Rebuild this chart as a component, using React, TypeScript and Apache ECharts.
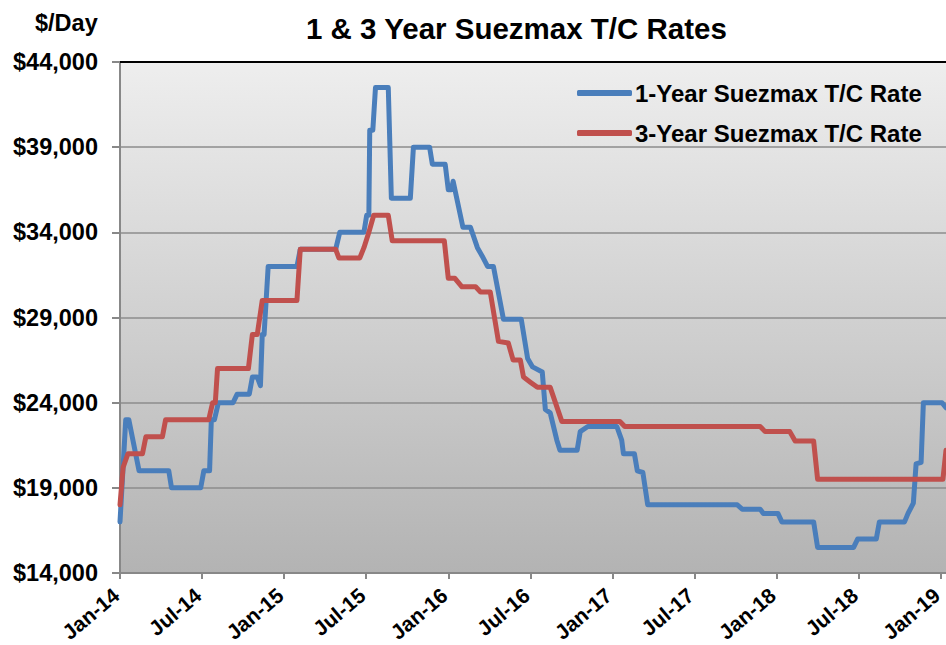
import React, { useEffect, useRef } from "react";
import * as echarts from "echarts";

const TITLE = "1 & 3 Year Suezmax T/C Rates";
const Y_UNIT = "$/Day";
const SERIES_NAMES = ["1-Year Suezmax T/C Rate", "3-Year Suezmax T/C Rate"];
const X_TICK_LABELS = ["Jan-14", "Jul-14", "Jan-15", "Jul-15", "Jan-16", "Jul-16", "Jan-17", "Jul-17", "Jan-18", "Jul-18", "Jan-19"];
const X_MIN_DATE = "2014-01-01";
const X_MAX_DATE = "2019-01-13";

const oneYearDates = [
  "2014-01-01", "2014-01-14", "2014-01-21", "2014-02-12", "2014-04-18", "2014-04-24", "2014-06-28", "2014-07-05",
  "2014-07-18", "2014-07-22", "2014-07-29", "2014-08-07", "2014-09-09", "2014-09-18", "2014-10-15", "2014-10-22",
  "2014-11-02", "2014-11-09", "2014-11-13", "2014-11-17", "2014-11-26", "2015-01-30", "2015-02-06", "2015-04-24",
  "2015-05-03", "2015-06-26", "2015-07-02", "2015-07-07", "2015-07-09", "2015-07-16", "2015-07-22", "2015-08-20",
  "2015-08-27", "2015-10-08", "2015-10-15", "2015-11-20", "2015-11-26", "2015-12-25", "2016-01-01", "2016-01-08",
  "2016-01-12", "2016-02-03", "2016-02-19", "2016-03-05", "2016-03-16", "2016-03-28", "2016-04-10", "2016-05-02",
  "2016-06-11", "2016-06-25", "2016-07-06", "2016-07-28", "2016-08-04", "2016-08-15", "2016-08-30", "2016-09-06",
  "2016-10-14", "2016-10-21", "2016-11-07", "2017-01-11", "2017-01-22", "2017-01-26", "2017-02-18", "2017-02-24",
  "2017-03-08", "2017-03-19", "2017-10-05", "2017-10-16", "2017-11-25", "2017-12-02", "2018-01-04", "2018-01-13",
  "2018-03-23", "2018-04-01", "2018-06-20", "2018-06-29", "2018-08-10", "2018-08-17", "2018-10-12", "2018-10-20",
  "2018-11-01", "2018-11-07", "2018-11-18", "2018-11-23", "2019-01-04", "2019-01-13",
];
const oneYearValues = [
  17000, 23000, 23000, 20000, 20000, 19000, 19000, 20000,
  20000, 23000, 23000, 24000, 24000, 24500, 24500, 25500,
  25500, 25000, 28000, 28000, 32000, 32000, 33000, 33000,
  34000, 34000, 35000, 35000, 40000, 40000, 42500, 42500,
  36000, 36000, 39000, 39000, 38000, 38000, 36500, 36500,
  37000, 34300, 34300, 33100, 32600, 32000, 32000, 28900,
  28900, 26600, 26100, 25800, 23600, 23400, 21800, 21200,
  21200, 22300, 22600, 22600, 21800, 21000, 21000, 20000,
  19900, 18000, 18000, 17750, 17750, 17500, 17500, 17000,
  17000, 15500, 15500, 16000, 16000, 17000, 17000, 17500,
  18100, 20400, 20500, 24000, 24000, 23700,
];

const threeYearDates = [
  "2014-01-01", "2014-01-08", "2014-01-19", "2014-02-19", "2014-02-26", "2014-04-04", "2014-04-11", "2014-07-16",
  "2014-07-25", "2014-07-31", "2014-08-05", "2014-10-13", "2014-10-22", "2014-11-02", "2014-11-13", "2015-01-30",
  "2015-02-06", "2015-04-24", "2015-05-01", "2015-06-17", "2015-06-26", "2015-07-07", "2015-07-18", "2015-08-20",
  "2015-08-29", "2015-12-23", "2016-01-01", "2016-01-16", "2016-02-01", "2016-03-01", "2016-03-12", "2016-04-03",
  "2016-04-21", "2016-05-13", "2016-05-24", "2016-06-09", "2016-06-16", "2016-07-01", "2016-07-17", "2016-08-15",
  "2016-09-10", "2017-01-18", "2017-01-29", "2017-11-25", "2017-12-06", "2018-01-31", "2018-02-11", "2018-03-23",
  "2018-04-01", "2019-01-06", "2019-01-13",
];
const threeYearValues = [
  18000, 20200, 21000, 21000, 22000, 22000, 23000, 23000,
  24000, 24000, 26000, 26000, 28000, 28000, 30000, 30000,
  33000, 33000, 32500, 32500, 33100, 34000, 35000, 35000,
  33500, 33500, 31300, 31300, 30800, 30800, 30500, 30500,
  27600, 27500, 26500, 26500, 25500, 25200, 24900, 24900,
  22900, 22900, 22600, 22600, 22300, 22300, 21750, 21750,
  19500, 19500, 21200,
];

const Y_MIN = 14000;
const Y_MAX = 44000;
const Y_STEP = 5000;

function toMonthIndex(d: string): number {
  const [y, m, day] = d.split("-").map(Number);
  const dim = new Date(Date.UTC(y, m, 0)).getUTCDate();
  return (y - 2014) * 12 + (m - 1) + (day - 1) / dim;
}

const FONT = "'Liberation Sans', Arial, sans-serif";

export default function App() {
  const ref = useRef<HTMLDivElement>(null);
  useEffect(() => {
    if (!ref.current) return;
    const chart = echarts.init(ref.current, undefined, { renderer: "svg" });
    const xMin = toMonthIndex(X_MIN_DATE);
    const xMax = toMonthIndex(X_MAX_DATE);
    const s1 = oneYearDates.map((d, i) => [toMonthIndex(d), oneYearValues[i]]);
    const s2 = threeYearDates.map((d, i) => [toMonthIndex(d), threeYearValues[i]]);
    chart.setOption({
      animation: false,
      backgroundColor: "#ffffff",
      textStyle: { fontFamily: FONT },
      title: [
        {
          text: TITLE,
          left: 306,
          top: 13,
          padding: 0,
          textStyle: { fontSize: 29.5, fontWeight: "bold", color: "#000", fontFamily: FONT },
        },
        {
          text: Y_UNIT,
          left: 35,
          top: 11,
          padding: 0,
          textStyle: { fontSize: 23.5, fontWeight: "bold", color: "#000", fontFamily: FONT },
        },
      ],
      legend: {
        orient: "vertical",
        left: 577,
        top: 81,
        padding: 0,
        itemGap: 16,
        itemWidth: 55,
        itemHeight: 6,
        icon: "roundRect",
        data: SERIES_NAMES,
        textStyle: { fontSize: 24, fontWeight: "bold", color: "#000", fontFamily: FONT, padding: [0, 0, 0, -2] },
      },
      grid: {
        left: 120,
        right: 0,
        top: 62,
        bottom: 72,
        show: true,
        borderWidth: 0,
        containLabel: false,
        outerBoundsMode: "none",
        backgroundColor: new echarts.graphic.LinearGradient(0, 0, 0, 1, [
          { offset: 0, color: "#eeeeee" },
          { offset: 1, color: "#b3b3b3" },
        ]),
      },
      xAxis: [
        {
          type: "value",
          min: xMin,
          max: xMax,
          interval: 6,
          axisLine: { show: true, onZero: false, lineStyle: { color: "#888888", width: 2 } },
          axisTick: { show: true, length: 6, lineStyle: { color: "#888888", width: 2 } },
          splitLine: { show: false },
          axisLabel: {
            showMaxLabel: false,
            hideOverlap: false,
            rotate: 40,
            margin: 16,
            padding: [0, 5, 0, 0],
            fontSize: 21,
            lineHeight: 14,
            fontWeight: "bold",
            color: "#000",
            fontFamily: FONT,
            formatter: (v: number) => {
              const r = Math.round(v);
              if (Math.abs(v - r) > 1e-6 || r % 6 !== 0) return "";
              return X_TICK_LABELS[r / 6] ?? "";
            },
          },
        },
        {
          type: "value",
          position: "top",
          min: xMin,
          max: xMax,
          axisLine: { show: true, onZero: false, lineStyle: { color: "#000000", width: 2 } },
          axisTick: { show: false },
          axisLabel: { show: false },
          splitLine: { show: false },
        },
      ],
      yAxis: {
        type: "value",
        min: Y_MIN,
        max: Y_MAX,
        interval: Y_STEP,
        axisLine: { show: true, lineStyle: { color: "#888888", width: 2 } },
        axisTick: { show: true, length: 8, lineStyle: { color: "#888888", width: 2 } },
        splitLine: { show: true, lineStyle: { color: "#8c8c8c", width: 1.5 } },
        axisLabel: {
          margin: 22,
          fontSize: 23.5,
          fontWeight: "bold",
          color: "#000",
          fontFamily: FONT,
          formatter: (v: number) => "$" + v.toLocaleString("en-US"),
        },
      },
      series: [
        {
          name: SERIES_NAMES[0],
          type: "line",
          data: s1,
          showSymbol: false,
          symbol: "none",
          lineStyle: { color: "#4a7ebb", width: 5, join: "round", cap: "round" },
          itemStyle: { color: "#4a7ebb" },
          z: 3,
        },
        {
          name: SERIES_NAMES[1],
          type: "line",
          data: s2,
          showSymbol: false,
          symbol: "none",
          lineStyle: { color: "#c0504d", width: 5, join: "round", cap: "round" },
          itemStyle: { color: "#c0504d" },
          z: 4,
        },
      ],
    });
    return () => chart.dispose();
  }, []);
  return (
    <div
      ref={ref}
      style={{ position: "fixed", left: 0, top: 0, width: 946, height: 645 }}
    />
  );
}
